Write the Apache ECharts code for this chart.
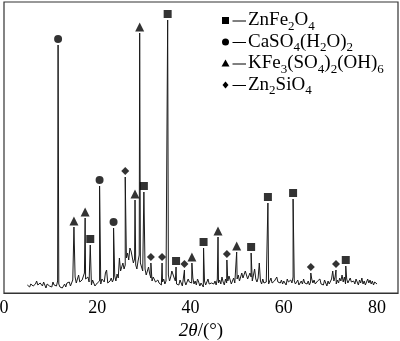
<!DOCTYPE html>
<html>
<head>
<meta charset="utf-8">
<script src="https://cdn.jsdelivr.net/npm/echarts@6/dist/echarts.min.js"></script>
<style>
  html, body { margin: 0; padding: 0; background: #fff; }
  #chart { width: 400px; height: 341px; }
</style>
</head>
<body>
<div id="chart"></div>
<script>
// XRD pattern: background counts sampled every 0.25° from 5° to 80°
const scanStart = 5;
const scanStep = 0.25;
const background = [
  8,10,6,9,11,7,5,9,12,8,6,10,9,7,11,8,5,9,10,7,            // 5.00 - 9.75
  9,6,11,8,10,7,12,9,6,8,5,7,9,6,10,8,11,7,9,13,            // 10.00 - 14.75
  12,16,10,14,18,11,9,13,15,20,14,12,16,11,9,8,13,10,7,9,   // 15.00 - 19.75
  10,8,12,9,14,16,11,20,23,10,9,12,15,11,14,17,12,19,15,35, // 20.00 - 24.75
  22,26,30,24,28,35,40,33,45,42,36,30,34,28,24,32,38,30,26,22, // 25.00 - 29.75
  20,24,18,22,26,19,15,12,16,14,11,9,13,10,12,8,11,14,9,12, // 30.00 - 34.75
  14,18,12,16,22,20,15,12,9,11,8,13,10,7,9,12,8,10,14,11,   // 35.00 - 39.75
  13,10,15,9,12,8,14,11,7,10,9,6,12,8,11,14,9,7,10,8,       // 40.00 - 44.75
  9,12,8,14,10,13,9,16,11,8,14,10,12,17,13,9,11,15,10,12,   // 45.00 - 49.75
  14,18,12,16,20,15,13,22,18,14,17,20,16,12,18,24,14,11,15,30, // 50.00 - 54.75
  12,9,14,10,8,11,13,9,12,15,10,8,12,14,16,11,9,10,13,9,    // 55.00 - 59.75
  12,10,8,14,11,9,13,10,16,12,9,11,13,8,10,12,9,14,10,8,    // 60.00 - 64.75
  9,12,8,11,14,10,13,9,7,12,10,14,9,11,8,13,10,7,12,9,      // 65.00 - 69.75
  11,14,22,12,16,9,13,10,15,12,18,11,16,9,14,10,12,15,11,9, // 70.00 - 74.75
  12,9,14,11,8,13,10,15,9,12,8,11,14,10,13,9,12,8,11,10,9   // 75.00 - 80.00
];

// Indexed reflections [2θ, counts] for each phase
const peaksZnFe2O4 = [[18.5,48],[30.0,101],[35.1,273],[36.9,26],[42.8,45],[53.0,40],[56.6,90],[62.0,94],[73.3,27]];
const peaksCaSO4 = [[11.6,248],[20.5,107],[23.5,65]];
const peaksJarosite = [[15.0,66],[17.4,75],[28.1,93],[29.1,260],[40.3,30],[45.9,56],[49.9,41]];
const peaksZn2SiO4 = [[26.0,116],[31.5,30],[33.9,30],[38.7,23],[47.8,33],[65.8,20],[71.2,23]];

const phaseNames = ['ZnFe2O4', 'CaSO4(H2O)2', 'KFe3(SO4)2(OH)6', 'Zn2SiO4'];
const phaseSymbols = ['rect', 'circle', 'triangle', 'diamond'];
// formula pieces: [text, subscript?]
const phaseFormulas = [
  [['ZnFe', 0], ['2', 1], ['O', 0], ['4', 1]],
  [['CaSO', 0], ['4', 1], ['(H', 0], ['2', 1], ['O)', 0], ['2', 1]],
  [['KFe', 0], ['3', 1], ['(SO', 0], ['4', 1], [')', 0], ['2', 1], ['(OH)', 0], ['6', 1]],
  [['Zn', 0], ['2', 1], ['SiO', 0], ['4', 1]]
];
const xTicks = [0, 20, 40, 60, 80];

// full profile = background samples with the reflections merged in
const profile = background.map((v, i) => [scanStart + i * scanStep, v])
  .concat(peaksZnFe2O4, peaksCaSO4, peaksJarosite, peaksZn2SiO4)
  .sort((a, b) => a[0] - b[0]);

const serif = '"Liberation Serif", "Times New Roman", serif';
const mainFont = '19px ' + serif;
const subFont = '13px ' + serif;

function phaseSeries(name, data, symbol, size) {
  return {
    name: name,
    type: 'scatter',
    data: data,
    symbol: symbol,
    symbolSize: size,
    symbolOffset: [0, -6],
    itemStyle: { color: '#000' },
    silent: true,
    z: 5
  };
}

// key: phase symbol, dash, then the formula laid out piece by piece
const measureCtx = document.createElement('canvas').getContext('2d');
function textWidth(str, font) {
  measureCtx.font = font;
  return measureCtx.measureText(str).width;
}
const keyX = 225.5, keyTop = 20.5, keyStep = 21.5, r = 3.5;
const dashX0 = 232.5, dashX1 = 246, textX = 248;
const keyIcons = [
  cy => ({ type: 'rect', shape: { x: keyX - r, y: cy - r, width: 2 * r, height: 2 * r } }),
  cy => ({ type: 'circle', shape: { cx: keyX, cy: cy, r: r } }),
  cy => ({ type: 'polygon', shape: { points: [[keyX, cy - 4], [keyX + 4, cy + 3], [keyX - 4, cy + 3]] } }),
  cy => ({ type: 'polygon', shape: { points: [[keyX, cy - 3.5], [keyX + 3, cy], [keyX, cy + 3.5], [keyX - 3, cy]] } })
];
const keyElements = [];
phaseNames.forEach((n, i) => {
  const cy = keyTop + i * keyStep;
  const icon = keyIcons[i](cy);
  icon.style = { fill: '#000' };
  icon.silent = true;
  keyElements.push(icon);
  keyElements.push({
    type: 'line', silent: true,
    shape: { x1: dashX0, y1: cy + 0.5, x2: dashX1, y2: cy + 0.5 },
    style: { stroke: '#000', lineWidth: 1 }
  });
  let x = textX;
  phaseFormulas[i].forEach(([str, isSub]) => {
    const font = isSub ? subFont : mainFont;
    keyElements.push({
      type: 'text', silent: true,
      x: x, y: isSub ? cy + 6 : cy,
      style: { text: str, font: font, fill: '#000', align: 'left', verticalAlign: 'middle' }
    });
    x += textWidth(str, font);
  });
});

const chart = echarts.init(document.getElementById('chart'), null, { renderer: 'canvas' });
chart.setOption({
  animation: false,
  backgroundColor: '#fff',
  grid: {
    left: 4, right: 2, top: 2, bottom: 48,
    containLabel: false,
    outerBoundsMode: 'none',
    show: true, borderColor: '#333', borderWidth: 1.2, backgroundColor: 'transparent'
  },
  graphic: keyElements,
  xAxis: {
    type: 'value',
    min: 0,
    max: 84.5,
    interval: 20,
    splitLine: { show: false },
    axisTick: { show: false },
    axisLine: { show: true, lineStyle: { color: '#333', width: 1.2 } },
    axisLabel: {
      margin: 6,
      color: '#000',
      fontFamily: serif,
      fontSize: 18,
      formatter: v => (xTicks.indexOf(v) >= 0 ? String(v) : '')
    },
    name: '{i|2θ}{n|/(°)}',
    nameLocation: 'middle',
    nameGap: 28,
    nameTextStyle: {
      rich: {
        i: { fontFamily: serif, fontSize: 19, fontStyle: 'italic', color: '#000' },
        n: { fontFamily: serif, fontSize: 19, color: '#000' }
      }
    }
  },
  yAxis: {
    type: 'value',
    min: 0,
    max: 291,
    show: false,
    splitLine: { show: false }
  },
  series: [
    {
      name: 'profile',
      type: 'line',
      data: profile,
      showSymbol: false,
      symbol: 'none',
      silent: true,
      lineStyle: { color: '#1a1a1a', width: 1 },
      z: 3
    },
    phaseSeries(phaseNames[0], peaksZnFe2O4, phaseSymbols[0], 8),
    phaseSeries(phaseNames[1], peaksCaSO4, phaseSymbols[1], 8),
    phaseSeries(phaseNames[2], peaksJarosite, phaseSymbols[2], 9),
    phaseSeries(phaseNames[3], peaksZn2SiO4, phaseSymbols[3], 8)
  ]
});
</script>
</body>
</html>
